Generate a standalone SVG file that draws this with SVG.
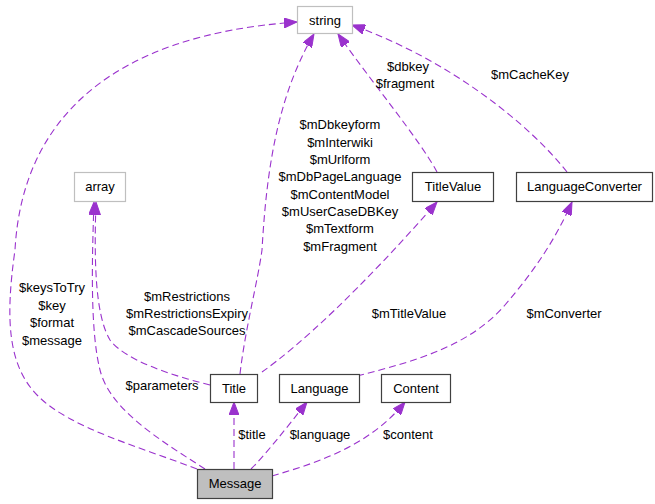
<svg xmlns="http://www.w3.org/2000/svg" width="655" height="504" viewBox="0 0 655 504">
<style>
text{font-family:"Liberation Sans",Arial,sans-serif;font-size:13px;fill:#000;text-anchor:middle}
.n{fill:#fff;stroke:#404040;stroke-width:1.2}
.g{fill:#fff;stroke:#bfbfbf;stroke-width:1.2}
.m{fill:#bfbfbf;stroke:#404040;stroke-width:1.2}
.e{fill:none;stroke:#9a32cd;stroke-width:1.1;stroke-dasharray:7,4;marker-end:url(#ah)}
</style>
<defs>
<marker id="ah" viewBox="0 0 13 10" refX="13" refY="5" markerWidth="13" markerHeight="10" markerUnits="userSpaceOnUse" orient="auto">
<path d="M0,0 L13,5 L0,10 z" fill="#9a32cd" stroke="#9a32cd"/>
</marker>
</defs>
<rect width="655" height="504" fill="#fff"/>
<g id="edges">
<path class="e" d="M197,469 C140,447 70,428 38,396 C8,366 5,320 15,250 C22,120 110,35 297,22"/>
<path class="e" d="M205,469 C160,440 110,410 100,370 C90,330 92,260 94,202"/>
<path class="e" d="M210,385 C170,375 125,360 110,340 C95,315 94,260 96,202"/>
<path class="e" d="M240,374 C245,330 258,280 262,250 C266,180 275,100 314,34"/>
<path class="e" d="M437,172 C420,140 370,80 338,34"/>
<path class="e" d="M567,172 C530,125 450,60 352,25"/>
<path class="e" d="M262,372 C300,345 360,290 437,202"/>
<path class="e" d="M357,376 C420,360 470,345 505,305 C535,270 555,240 572,202"/>
<path class="e" d="M234,469 L234,402"/>
<path class="e" d="M251,469 C265,455 285,430 307,402"/>
<path class="e" d="M272,476 C320,462 370,445 405,402"/>
<text x="52" y="292">$keysToTry</text>
<text x="52" y="310">$key</text>
<text x="52" y="327">$format</text>
<text x="52" y="345">$message</text>
<text x="162" y="390">$parameters</text>
<text x="187" y="301">$mRestrictions</text>
<text x="187" y="318">$mRestrictionsExpiry</text>
<text x="187" y="335">$mCascadeSources</text>
<text x="340" y="129">$mDbkeyform</text>
<text x="340" y="147">$mInterwiki</text>
<text x="340" y="164">$mUrlform</text>
<text x="340" y="181">$mDbPageLanguage</text>
<text x="340" y="199">$mContentModel</text>
<text x="340" y="216">$mUserCaseDBKey</text>
<text x="340" y="233">$mTextform</text>
<text x="340" y="251">$mFragment</text>
<text x="408" y="71">$dbkey</text>
<text x="405" y="88">$fragment</text>
<text x="530" y="79">$mCacheKey</text>
<text x="409" y="318">$mTitleValue</text>
<text x="564" y="318">$mConverter</text>
<text x="252" y="439">$title</text>
<text x="320" y="439">$language</text>
<text x="408" y="439">$content</text>
</g>
<g id="string"><rect class="g" x="297.5" y="6.5" width="55" height="27"/><text x="325" y="24.5">string</text></g>
<g id="array"><rect class="g" x="74.5" y="172.5" width="51" height="29"/><text x="100" y="191">array</text></g>
<g id="TitleValue"><rect class="n" x="412.5" y="172.5" width="81" height="29"/><text x="453" y="191">TitleValue</text></g>
<g id="LanguageConverter"><rect class="n" x="516.5" y="172.5" width="136" height="29"/><text x="584.5" y="191">LanguageConverter</text></g>
<g id="Title"><rect class="n" x="210.5" y="374.5" width="47" height="28"/><text x="234" y="393">Title</text></g>
<g id="Language"><rect class="n" x="279.5" y="374.5" width="80" height="28"/><text x="319.5" y="393">Language</text></g>
<g id="Content"><rect class="n" x="381.5" y="374.5" width="69" height="28"/><text x="416" y="393">Content</text></g>
<g id="Message"><rect class="m" x="197.5" y="469.5" width="75" height="29"/><text x="235" y="488">Message</text></g>
</svg>
